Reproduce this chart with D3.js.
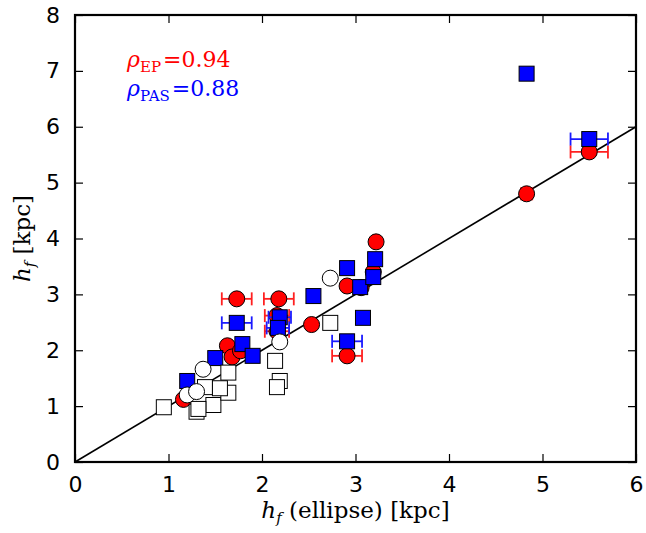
<!DOCTYPE html>
<html>
<head>
<meta charset="utf-8">
<script src="https://cdn.jsdelivr.net/npm/d3@7"></script>
<style>
  html, body { margin: 0; padding: 0; background: #fff; }
  svg { display: block; }
</style>
</head>
<body>
<svg id="chart" width="646" height="533"></svg>
<script>
// Scale heights h_f from two fitting methods versus the ellipse fit (kpc)
const epX   = [1.73, 2.18, 3.22, 4.83, 5.50, 2.91, 2.91, 3.06, 2.53, 3.19, 2.16, 2.16, 1.63, 1.68, 1.77, 1.16];
const epY   = [2.92, 2.92, 3.94, 4.80, 5.55, 1.90, 3.15, 3.12, 2.46, 3.40, 2.62, 2.34, 2.08, 1.88, 1.99, 1.12];
const epErr = [0.16, 0.16, 0.00, 0.06, 0.20, 0.16, 0.00, 0.00, 0.00, 0.00, 0.13, 0.13, 0.00, 0.00, 0.00, 0.00];

const pasX   = [4.83, 5.50, 2.55, 2.91, 3.08, 2.91, 3.05, 3.21, 3.19, 2.19, 2.17, 1.73, 1.79, 1.50, 1.90, 1.20];
const pasY   = [6.95, 5.78, 2.97, 3.47, 2.58, 2.16, 3.13, 3.63, 3.31, 2.59, 2.40, 2.49, 2.11, 1.86, 1.90, 1.45];
const pasErr = [0.00, 0.20, 0.00, 0.00, 0.00, 0.16, 0.00, 0.00, 0.00, 0.12, 0.12, 0.16, 0.00, 0.00, 0.00, 0.00];

const sqX = [0.95, 1.30, 1.48, 1.64, 1.64, 1.39, 1.55, 2.14, 2.19, 2.16, 2.73, 1.32];
const sqY = [0.98, 0.90, 1.02, 1.60, 1.24, 1.34, 1.32, 1.81, 1.45, 1.34, 2.49, 0.95];

const ciX = [1.37, 2.19, 2.73, 1.20, 1.30];
const ciY = [1.66, 2.15, 3.29, 1.20, 1.26];

const xTicks = [0, 1, 2, 3, 4, 5, 6];
const yTicks = [0, 1, 2, 3, 4, 5, 6, 7, 8];
const rhoEP = "0.94", rhoPAS = "0.88";

const svg = d3.select("#chart");
const m = { left: 75, top: 15, right: 636, bottom: 462 };
const x = d3.scaleLinear().domain([0, 6]).range([m.left, m.right]);
const y = d3.scaleLinear().domain([0, 8]).range([m.bottom, m.top]);
const W = m.right - m.left, H = m.bottom - m.top;

const tickFont = "'DejaVu Sans', sans-serif";
const serif = "'DejaVu Serif', serif";

// axes with inward ticks on all four sides
const gx = svg.append("g").attr("transform", `translate(0,${m.bottom})`)
  .call(d3.axisBottom(x).tickValues(xTicks).tickFormat(d3.format("d")).tickSizeInner(-8).tickSizeOuter(0).tickPadding(14));
const gxt = svg.append("g").attr("transform", `translate(0,${m.top})`)
  .call(d3.axisTop(x).tickValues(xTicks).tickFormat("").tickSizeInner(-8).tickSizeOuter(0));
const gy = svg.append("g").attr("transform", `translate(${m.left},0)`)
  .call(d3.axisLeft(y).tickValues(yTicks).tickFormat(d3.format("d")).tickSizeInner(-8).tickSizeOuter(0).tickPadding(15));
const gyr = svg.append("g").attr("transform", `translate(${m.right},0)`)
  .call(d3.axisRight(y).tickValues(yTicks).tickFormat("").tickSizeInner(-8).tickSizeOuter(0));
[gx, gxt, gy, gyr].forEach(g => {
  g.select(".domain").remove();
  g.selectAll("line").attr("stroke", "#000").attr("stroke-width", 1.2);
  g.selectAll("text").attr("fill", "#000").style("font-family", tickFont).style("font-size", "22px");
});

// one-to-one line
svg.append("line")
  .attr("x1", x(0)).attr("y1", y(0)).attr("x2", x(6)).attr("y2", y(6))
  .attr("stroke", "#000").attr("stroke-width", 1.6);

const clip = svg.append("defs").append("clipPath").attr("id", "plotclip")
  .append("rect").attr("x", m.left).attr("y", m.top).attr("width", W).attr("height", H);
const plot = svg.append("g").attr("clip-path", "url(#plotclip)");

function errorBars(xs, ys, es, color) {
  const d = xs.map((v, i) => ({ x: v, y: ys[i], e: es[i] })).filter(p => p.e > 0);
  const g = plot.append("g").attr("stroke", color).attr("stroke-width", 1.8);
  d.forEach(p => {
    g.append("line").attr("x1", x(p.x - p.e)).attr("x2", x(p.x + p.e)).attr("y1", y(p.y)).attr("y2", y(p.y));
    [p.x - p.e, p.x + p.e].forEach(cx => {
      g.append("line").attr("x1", x(cx)).attr("x2", x(cx)).attr("y1", y(p.y) - 6.5).attr("y2", y(p.y) + 6.5);
    });
  });
}

function circles(xs, ys, fill) {
  plot.append("g").selectAll("circle").data(xs.map((v, i) => [v, ys[i]])).join("circle")
    .attr("cx", d => x(d[0])).attr("cy", d => y(d[1])).attr("r", 8)
    .attr("fill", fill).attr("stroke", "#000").attr("stroke-width", 1);
}

function squares(xs, ys, fill, size) {
  plot.append("g").selectAll("rect").data(xs.map((v, i) => [v, ys[i]])).join("rect")
    .attr("x", d => x(d[0]) - size / 2).attr("y", d => y(d[1]) - size / 2)
    .attr("width", size).attr("height", size)
    .attr("fill", fill).attr("stroke", "#000").attr("stroke-width", 1);
}

errorBars(epX, epY, epErr, "#ff2020");
circles(epX, epY, "#ff0000");
errorBars(pasX, pasY, pasErr, "#1a1aff");
squares(pasX, pasY, "#0000ff", 15);
squares(sqX, sqY, "#ffffff", 15);
circles(ciX, ciY, "#ffffff");

// frame
svg.append("rect").attr("x", m.left).attr("y", m.top).attr("width", W).attr("height", H)
  .attr("fill", "none").attr("stroke", "#000").attr("stroke-width", 2.2);

// correlation annotations
function rhoText(yPos, sub, val, color) {
  const t = svg.append("text").attr("x", 127).attr("y", yPos).attr("fill", color)
    .style("font-family", serif).style("font-size", "22px");
  t.append("tspan").style("font-style", "italic").text("ρ");
  t.append("tspan").attr("dy", 5).style("font-size", "15px").text(sub);
  t.append("tspan").attr("dy", -5).attr("dx", 2).text("=" + val);
}
rhoText(67, "EP", rhoEP, "#ff0000");
rhoText(96, "PAS", rhoPAS, "#0000ff");

// axis titles
const xl = svg.append("text").attr("x", (m.left + m.right) / 2).attr("y", 518)
  .attr("text-anchor", "middle").style("font-family", serif).style("font-size", "23px");
xl.append("tspan").style("font-style", "italic").text("h");
xl.append("tspan").attr("dy", 5).style("font-style", "italic").style("font-size", "15px").text("f");
xl.append("tspan").attr("dy", -5).text(" (ellipse) [kpc]");

const yl = svg.append("text").attr("transform", `translate(30,${(m.top + m.bottom) / 2}) rotate(-90)`)
  .attr("text-anchor", "middle").style("font-family", serif).style("font-size", "23px");
yl.append("tspan").style("font-style", "italic").text("h");
yl.append("tspan").attr("dy", 5).style("font-style", "italic").style("font-size", "15px").text("f");
yl.append("tspan").attr("dy", -5).text(" [kpc]");
</script>
</body>
</html>
